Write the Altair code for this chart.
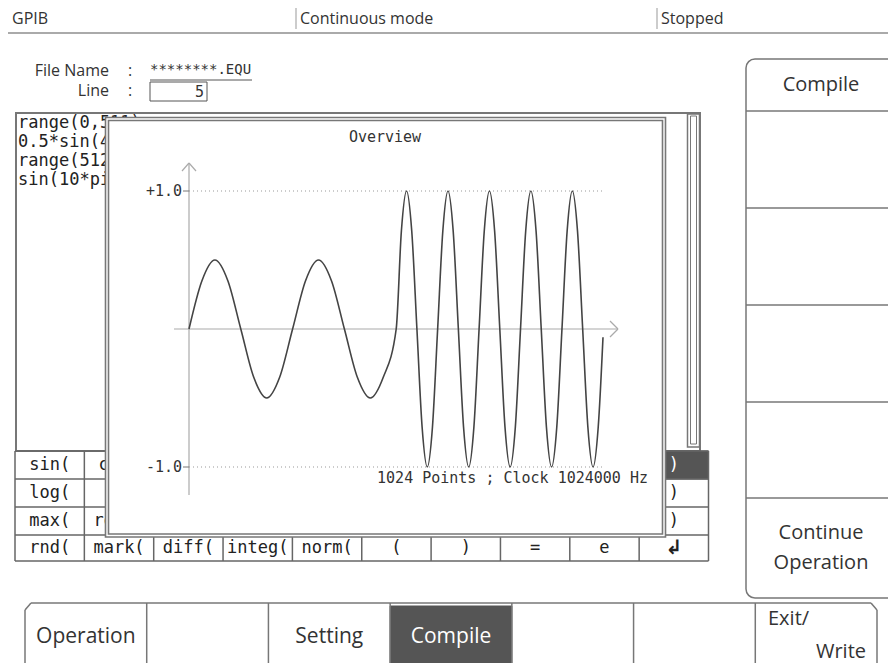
import altair as alt
import pandas as pd

OFF = 8          # page margin
W, H = 880, 655  # drawable area
UI = "Open Sans"
MONO = "DejaVu Sans Mono"
INK = "#333333"
LINE = "#777777"

# ---------------- data read from the screen ----------------
# waveform: sample index and value (0.5*sin, 2 cycles, then sin, 5 cycles)
WAVE_IDX = [0, 32, 64, 96, 128, 160, 192, 224, 256, 288, 320, 352, 384, 416, 448, 480,
            512, 524.8, 537.6, 550.4, 563.2, 576, 588.8, 601.6, 614.4, 627.2,
            640, 652.8, 665.6, 678.4, 691.2, 704, 716.8, 729.6, 742.4, 755.2,
            768, 780.8, 793.6, 806.4, 819.2, 832, 844.8, 857.6, 870.4, 883.2,
            896, 908.8, 921.6, 934.4, 947.2, 960, 972.8, 985.6, 998.4, 1011.2, 1023]
WAVE_VAL = [0.0, 0.35, 0.5, 0.35, 0.0, -0.35, -0.5, -0.35, 0.0, 0.35, 0.5, 0.35, 0.0, -0.35, -0.5, -0.35,
            0.0, 0.71, 1.0, 0.71, 0.0, -0.71, -1.0, -0.71, 0.0, 0.71,
            1.0, 0.71, 0.0, -0.71, -1.0, -0.71, 0.0, 0.71, 1.0, 0.71,
            0.0, -0.71, -1.0, -0.71, 0.0, 0.71, 1.0, 0.71, 0.0, -0.71,
            -1.0, -0.71, 0.0, 0.71, 1.0, 0.71, 0.0, -0.71, -1.0, -0.71, -0.06]
X_DOMAIN = [0, 1023]
Y_DOMAIN = [-1, 1]
Y_TICKS = [1.0, -1.0]
Y_TICK_LABELS = ["+1.0", "-1.0"]
PANEL_TITLE = "Overview"
INFO_TEXT = "1024 Points ; Clock 1024000 Hz"

STATUS = ["GPIB", "Continuous mode", "Stopped"]
FILE_LABELS = ["File Name", "Line"]
FILE_NAME = "********.EQU"
LINE_NO = "5"
EDITOR_LINES = ["range(0,511)", "0.5*sin(4*pi", "range(512,", "sin(10*pi"]
KEY_ROWS = [
    ["sin(", "cos(", "", "", "", "", "", "", "", ")"],
    ["log(", "", "", "", "", "", "", "", "", ")"],
    ["max(", "rect(", "", "", "", "", "", "", "", ")"],
    ["rnd(", "mark(", "diff(", "integ(", "norm(", "(", ")", "=", "e", "\u21b2"],
]
SIDE_KEYS = ["Compile", "", "", "", "", "Continue\nOperation"]
TABS = ["Operation", "", "Setting", "Compile", "", "", ""]
EXIT_LINES = ["Exit/", "Write"]


# ---------------- helpers (screen layout in page pixels) ----------------
def pxdf(rows, cols):
    df = pd.DataFrame(rows, columns=cols)
    for c in cols:
        if c in ("x", "x2", "y", "y2"):
            df[c] = df[c] - OFF
    return df


def rules(rows, dash=None):
    df = pxdf(rows, ["x", "y", "x2", "y2", "c", "w"])
    kw = dict(strokeCap="butt")
    if dash:
        kw["strokeDash"] = dash
    return alt.Chart(df).mark_rule(**kw).encode(
        x=alt.X("x:Q", scale=None, axis=None), x2="x2:Q",
        y=alt.Y("y:Q", scale=None, axis=None), y2="y2:Q",
        color=alt.Color("c:N", scale=None, legend=None),
        strokeWidth=alt.StrokeWidth("w:Q", scale=None, legend=None),
    )


def rects(rows, radius=0):
    df = pxdf(rows, ["x", "y", "x2", "y2", "f", "s", "w"])
    return alt.Chart(df).mark_rect(cornerRadius=radius).encode(
        x=alt.X("x:Q", scale=None, axis=None), x2="x2:Q",
        y=alt.Y("y:Q", scale=None, axis=None), y2="y2:Q",
        fill=alt.Fill("f:N", scale=None, legend=None),
        stroke=alt.Stroke("s:N", scale=None, legend=None),
        strokeWidth=alt.StrokeWidth("w:Q", scale=None, legend=None),
    )


def texts(rows, font=UI, size=17, align="left", color=INK, weight="normal", lh=None):
    df = pxdf(rows, ["x", "y", "t"])
    return alt.Chart(df).mark_text(
        font=font, fontSize=size, align=align, baseline="middle",
        color=color, fontWeight=weight, lineBreak="\n", lineHeight=lh or size * 1.5,
    ).encode(
        x=alt.X("x:Q", scale=None, axis=None),
        y=alt.Y("y:Q", scale=None, axis=None),
        text="t:N",
    )


layers = []

# ---- status bar ----
layers.append(rules([
    (296, 0, 296, 29, "#999999", 1),
    (657, 0, 657, 29, "#999999", 1),
    (0, 33, 896, 33, "#aaaaaa", 2),
]))
layers.append(texts([(12, 19, STATUS[0]), (300, 19, STATUS[1]), (661, 19, STATUS[2])], size=16))

# ---- file name / line ----
layers.append(texts([(109, 71, FILE_LABELS[0]), (109, 91, FILE_LABELS[1])], align="right", size=16))
layers.append(texts([(128, 71, ":"), (128, 91, ":")], size=16))
layers.append(texts([(150, 70, FILE_NAME)], font=MONO, size=14))
layers.append(rules([(150, 80, 252, 80, "#555555", 1)]))
layers.append(rects([(150, 82, 207, 101, "white", "#555555", 1)]))
layers.append(texts([(204, 92, LINE_NO)], font=MONO, size=15, align="right"))

# ---- editor box ----
layers.append(rects([
    (16, 113, 700, 451, "white", LINE, 2),
    (687.5, 114, 699.5, 447, "white", LINE, 1.5),
    (690.5, 116, 696.5, 444, "white", LINE, 1),
]))
layers.append(texts([(18, 123 + 19 * i, s) for i, s in enumerate(EDITOR_LINES)],
                    font=MONO, size=17, color="#222222"))

# ---- key grid ----
GX0, GX1 = 15, 708.5
CW = (GX1 - GX0) / 10
ROWS_Y = [451, 479, 507, 535, 561]
layers.append(rects([(GX0 + 9 * CW, ROWS_Y[0], GX1, ROWS_Y[1], "#555555", "#555555", 1)]))
grid_lines = [(GX0, y, GX1, y, "#666666", 1.5) for y in ROWS_Y]
grid_lines += [(GX0 + CW * i, ROWS_Y[0], GX0 + CW * i, ROWS_Y[-1], "#666666", 1.5) for i in range(11)]
layers.append(rules(grid_lines))
key_rows = []
for r, row in enumerate(KEY_ROWS):
    yc = (ROWS_Y[r] + ROWS_Y[r + 1]) / 2
    for c, lab in enumerate(row):
        if not lab or (r == 0 and c == 9) or (r == 3 and c == 9):
            continue
        key_rows.append((GX0 + CW * (c + 0.5), yc, lab))
layers.append(texts(key_rows, font=MONO, size=17, align="center", color="#222222"))
layers.append(texts([(GX0 + CW * 9.5, (ROWS_Y[3] + ROWS_Y[4]) / 2, KEY_ROWS[3][9])],
                    font="DejaVu Sans", size=20, align="center", color="#222222", weight="bold"))
layers.append(texts([(GX0 + CW * 9.5, (ROWS_Y[0] + ROWS_Y[1]) / 2, KEY_ROWS[0][9])],
                    font=MONO, size=17, align="center", color="white"))

# ---- overview pop-up ----
layers.append(rects([
    (105.5, 117.5, 665.5, 537, "white", LINE, 1.6),
    (108.5, 120.5, 662.5, 534, "white", LINE, 1.6),
]))
layers.append(texts([(385, 137, PANEL_TITLE)], font=MONO, size=15, align="center"))
# axes with arrow heads
layers.append(rules([
    (189, 163, 189, 495, "#aaaaaa", 1.2),
    (182, 171, 189, 163, "#aaaaaa", 1.2),
    (196, 171, 189, 163, "#aaaaaa", 1.2),
    (174, 329, 618, 329, "#aaaaaa", 1.2),
    (610, 321, 618, 329, "#aaaaaa", 1.2),
    (610, 337, 618, 329, "#aaaaaa", 1.2),
]))

xs = alt.Scale(domain=X_DOMAIN, range=[189 - OFF, 603 - OFF], nice=False, zero=False)
ys = alt.Scale(domain=Y_DOMAIN, range=[467 - OFF, 191 - OFF], nice=False, zero=False)

tick_df = pd.DataFrame({"val": Y_TICKS, "lab": Y_TICK_LABELS,
                        "i0": [X_DOMAIN[0]] * 2, "i1": [X_DOMAIN[1]] * 2})
layers.append(alt.Chart(tick_df).mark_rule(strokeDash=[1, 3], color="#999999", strokeWidth=1).encode(
    x=alt.X("i0:Q", scale=xs, axis=None), x2="i1:Q",
    y=alt.Y("val:Q", scale=ys, axis=None)))
layers.append(alt.Chart(tick_df).mark_rule(color="#777777", strokeWidth=1).encode(
    x=alt.value(183 - OFF), x2=alt.value(189 - OFF),
    y=alt.Y("val:Q", scale=ys, axis=None)))
layers.append(alt.Chart(tick_df).mark_text(font=MONO, fontSize=15, align="right", baseline="middle",
                                           color=INK).encode(
    x=alt.value(182 - OFF), y=alt.Y("val:Q", scale=ys, axis=None), text="lab:N"))

wave_df = pd.DataFrame({"idx": WAVE_IDX, "val": WAVE_VAL})
layers.append(alt.Chart(wave_df).mark_line(interpolate="monotone", color="#444444", strokeWidth=1.6).encode(
    x=alt.X("idx:Q", scale=xs, axis=None),
    y=alt.Y("val:Q", scale=ys, axis=None),
    order="idx:Q"))

layers.append(texts([(648, 478, INFO_TEXT)], font=MONO, size=15, align="right"))

# ---- right soft-key panel ----
SIDE_Y = [59, 111, 208, 305, 402, 498, 598]
layers.append(rects([(746, SIDE_Y[0], 920, SIDE_Y[-1], "white", LINE, 1.5)], radius=9))
layers.append(rules([(746, y, 896, y, LINE, 1.5) for y in SIDE_Y[1:-1]]))
side_txt = []
for i, lab in enumerate(SIDE_KEYS):
    if lab:
        yc = (SIDE_Y[i] + SIDE_Y[i + 1]) / 2
        if "\n" in lab:
            yc -= 15
        side_txt.append((821, yc, lab))
layers.append(texts(side_txt, size=20, align="center", lh=30))

# ---- bottom tabs ----
TX0, TX1 = 25, 877
TW = (TX1 - TX0) / 7
layers.append(rects([(TX0 + 3 * TW, 606, TX0 + 4 * TW, 680, "#555555", "#555555", 1)]))
tab_lines = [
    (TX0, 671, TX0, 610, LINE, 1.5), (TX0, 610, TX0 + 6, 603, LINE, 1.5),
    (TX0 + 6, 603, TX1 - 6, 603, LINE, 1.5), (TX1 - 6, 603, TX1, 610, LINE, 1.5),
    (TX1, 610, TX1, 671, LINE, 1.5),
]
tab_lines += [(TX0 + TW * i, 603, TX0 + TW * i, 671, LINE, 1.5) for i in range(1, 7)]
layers.append(rules(tab_lines))
tab_txt = [(TX0 + TW * (i + 0.5), 637, lab) for i, lab in enumerate(TABS) if lab and i != 3]
layers.append(texts(tab_txt, size=21, align="center"))
layers.append(texts([(TX0 + TW * 3.5, 637, TABS[3])], size=21, align="center", color="white"))
layers.append(texts([(768, 619, EXIT_LINES[0])], size=20, align="left"))
layers.append(texts([(866, 652, EXIT_LINES[1])], size=20, align="right"))

chart = alt.layer(*layers).properties(
    width=W, height=H, padding=0,
    autosize=alt.AutoSizeParams(type="none"),
    background="white",
).configure_view(stroke=None)

chart.save("out.html", embed_options={"renderer": "svg", "actions": False})
